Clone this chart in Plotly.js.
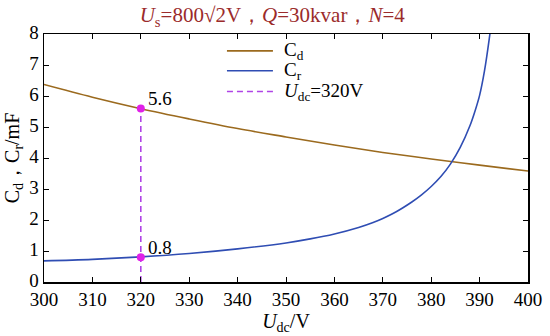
<!DOCTYPE html>
<html>
<head>
<meta charset="utf-8">
<script src="https://cdn.plot.ly/plotly-3.0.1.min.js"></script>
<style>html,body{margin:0;padding:0;background:#fff;}#chart{width:550px;height:336px;}</style>
</head>
<body>
<div id="chart"></div>
<script>
// Data
const udcCd = [300, 310, 320, 330, 340, 350, 360, 370, 380, 390, 400];
const cdValues = [6.37, 5.96, 5.59, 5.26, 4.95, 4.68, 4.42, 4.18, 3.97, 3.77, 3.58];

const udcCr = [300, 310, 320, 330, 340, 350, 355, 360, 365, 368, 370, 372, 374, 376, 378, 380, 382, 384, 386, 388, 389, 390, 391, 392, 393];
const crValues = [0.68, 0.73, 0.81, 0.92, 1.07, 1.26, 1.39, 1.55, 1.76, 1.92, 2.05, 2.20, 2.38, 2.58, 2.81, 3.08, 3.40, 3.81, 4.34, 5.04, 5.49, 6.02, 6.80, 7.85, 9.1];

const markUdc = [320, 320];
const markVals = [5.6, 0.8];
const markLabels = ['5.6', '0.8'];
const dashUdc = [320, 320];
const dashVals = [0, 5.6];

const xTicks = [300, 310, 320, 330, 340, 350, 360, 370, 380, 390, 400];
const yTicks = [0, 1, 2, 3, 4, 5, 6, 7, 8];

const seriesNames = ['C<sub>d</sub>', 'C<sub>r</sub>', '<i>U</i><sub>dc</sub>=320V'];

const serif = "'Liberation Serif', 'DejaVu Serif', serif";
const cdColor = '#9b6a1e';
const crColor = '#2f4db3';
const dashColor = '#b044e6';
const markColor = '#e020e8';
const seriesColors = [cdColor, crColor, dashColor];
const seriesDash = ['solid', 'solid', '6px,4px'];

const traces = [
  {x: udcCd, y: cdValues, mode: 'lines', name: seriesNames[0], showlegend: false, line: {color: cdColor, width: 1.6, shape: 'spline'}},
  {x: udcCr, y: crValues, mode: 'lines', name: seriesNames[1], showlegend: false, line: {color: crColor, width: 1.6, shape: 'spline'}},
  {x: dashUdc, y: dashVals, mode: 'lines', name: seriesNames[2], showlegend: false, line: {color: dashColor, width: 1.6, dash: '6px,4px'}},
  {x: markUdc, y: markVals, mode: 'markers', showlegend: false, marker: {color: markColor, size: 8}}
];

const annotations = markUdc.map((x, i) => ({
  x: x, y: markVals[i], xref: 'x', yref: 'y', text: markLabels[i],
  showarrow: false, xanchor: 'left', yanchor: 'middle', xshift: 5, yshift: 10,
  font: {family: serif, size: 19, color: '#000'}
}));

// Legend drawn as key lines + labels (paper coordinates)
const legX0 = 0.378, legX1 = 0.473, legTextX = 0.492;
const legY = [0.932, 0.852, 0.768];
const shapes = [];
seriesNames.forEach((name, i) => {
  shapes.push({type: 'line', xref: 'paper', yref: 'paper', x0: legX0, x1: legX1, y0: legY[i], y1: legY[i],
    line: {color: seriesColors[i], width: 1.6, dash: seriesDash[i]}});
  annotations.push({xref: 'paper', yref: 'paper', x: legTextX, y: legY[i], text: name, showarrow: false,
    xanchor: 'left', yanchor: 'middle', font: {family: serif, size: 19, color: '#000'}});
});

const layout = {
  width: 550, height: 336,
  margin: {l: 44, r: 22, t: 34, b: 54},
  paper_bgcolor: '#fff', plot_bgcolor: '#fff',
  showlegend: false,
  font: {family: serif, size: 19, color: '#000'},
  title: {
    text: '<i>U</i><sub>s</sub>=800√2V，<i>Q</i>=30kvar，<i>N</i>=4',
    font: {family: serif, size: 21, color: '#9b2b2b'},
    x: 0.495, xanchor: 'center', y: 0.955, yanchor: 'middle'
  },
  xaxis: {
    range: [300, 400], tickvals: xTicks, ticktext: xTicks.map(String),
    ticks: 'inside', ticklen: 5, tickcolor: '#000', showline: true, linecolor: '#000', linewidth: 1.5,
    mirror: 'ticks', showgrid: false, zeroline: false, ticklabelstandoff: 0,
    tickfont: {family: serif, size: 19, color: '#000'},
    title: {text: '<i>U</i><sub>dc</sub>/V', font: {family: serif, size: 20, color: '#000'}, standoff: 0}
  },
  yaxis: {
    range: [0, 8], tickvals: yTicks, ticktext: yTicks.map(String),
    ticks: 'inside', ticklen: 5, tickcolor: '#000', showline: true, linecolor: '#000', linewidth: 1.5,
    mirror: 'ticks', showgrid: false, zeroline: false, ticklabelshift: -2,
    tickfont: {family: serif, size: 19, color: '#000'},
    title: {text: 'C<sub>d</sub>，C<sub>r</sub>/mF', font: {family: serif, size: 20, color: '#000'}, standoff: 4}
  },
  shapes: shapes,
  annotations: annotations
};

Plotly.newPlot('chart', traces, layout, {displayModeBar: false, staticPlot: true});
</script>
</body>
</html>
